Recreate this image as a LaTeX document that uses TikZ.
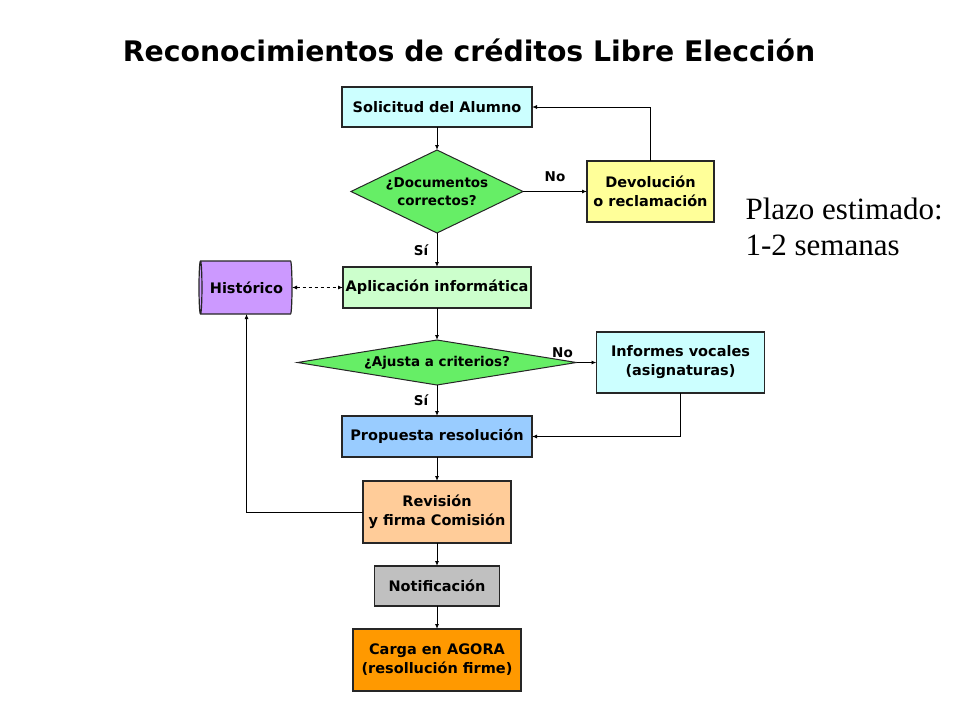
\documentclass[tikz,border=0pt]{standalone}
\usepackage{fontspec}
\setsansfont{DejaVu Sans}
\newfontfamily\serifplazo{Liberation Serif}
\usetikzlibrary{arrows.meta, positioning, shapes.geometric}
\definecolor{cyanbox}{HTML}{CCFFFF}
\definecolor{greendec}{HTML}{66EE66}
\definecolor{yellowbox}{HTML}{FFFF99}
\definecolor{greenbox}{HTML}{CCFFCC}
\definecolor{purplebox}{HTML}{CC99FF}
\definecolor{bluebox}{HTML}{99CCFF}
\definecolor{peachbox}{HTML}{FFCC99}
\definecolor{greybox}{HTML}{C0C0C0}
\definecolor{orangebox}{HTML}{FF9900}
\tikzset{%
	box/.style={draw=black!85, line width=1.2pt, rectangle, align=center, inner sep=0pt, outer sep=0pt,%
		font=\sffamily\bfseries\fontsize{14.5}{19}\selectfont},
	decision/.style={draw=black!85, line width=1pt, diamond, align=center, inner sep=0pt, outer sep=0pt,%
		fill=greendec, font=\sffamily\bfseries\fontsize{13.5}{18}\selectfont},
	store/.style={draw=black!85, line width=1.2pt, cylinder, shape border rotate=180,%
		cylinder uses custom fill, cylinder body fill=purplebox, cylinder end fill=purplebox,%
		aspect=0.25, inner sep=0pt, outer sep=0pt, font=\sffamily\bfseries\fontsize{14.5}{19}\selectfont},
	flow/.style={-{Latex[length=5pt,width=4pt]}, line width=0.9pt},
	link/.style={{Latex[length=5pt,width=4pt]}-{Latex[length=5pt,width=4pt]}, line width=0.9pt, dashed},
	answer/.style={font=\sffamily\bfseries\fontsize{13.5}{15}\selectfont}
}
\begin{document}
\begin{tikzpicture}[x=1pt, y=-1pt]
	\useasboundingbox (0,0) rectangle (960,720);
	\node[font=\sffamily\bfseries\fontsize{28.3}{32}\selectfont] (title) at (469,50)
		{Reconocimientos de créditos Libre Elección};

	\node[box, fill=cyanbox, minimum width=190pt, minimum height=40pt] (sol) at (437,107) {Solicitud del Alumno};
	\node[decision, aspect=2.07, minimum width=172pt, minimum height=83pt, below=23pt of sol] (docs) {¿Documentos\\correctos?};
	\node[box, fill=yellowbox, minimum width=127pt, minimum height=61pt, right=64pt of docs] (dev) {Devolución\\o reclamación};
	\node[box, fill=greenbox, minimum width=188pt, minimum height=41pt, below=34pt of docs] (apl) {Aplicación informática};
	\node[store, minimum width=53pt, minimum height=93pt, left=51pt of apl] (hist) {Histórico};
	\node[decision, aspect=6.2, minimum width=279pt, minimum height=45pt, below=32pt of apl] (crit) {¿Ajusta a criterios?};
	\node[box, fill=cyanbox, minimum width=168pt, minimum height=61pt, right=20pt of crit] (inf) {Informes vocales\\(asignaturas)};
	\node[box, fill=bluebox, minimum width=190pt, minimum height=41pt, below=31pt of crit] (prop) {Propuesta resolución};
	\node[box, fill=peachbox, minimum width=148pt, minimum height=62pt, below=24pt of prop] (rev) {Revisión\\y firma Comisión};
	\node[box, fill=greybox, minimum width=125pt, minimum height=40pt, below=23pt of rev] (notif) {Notificación};
	\node[box, fill=orangebox, minimum width=168pt, minimum height=62pt, below=23pt of notif] (carga) {Carga en AGORA\\(resollución firme)};

	\node[font=\serifplazo\fontsize{31}{36}\selectfont, align=left, anchor=north west] (plazo) at (742,194)
		{Plazo estimado:\\1-2 semanas};

	\draw[flow] (sol) -- (docs);
	\draw[flow] (docs) -- node[answer, above=6pt] {No} (dev);
	\draw[flow] (dev.north) |- (sol.east);
	\draw[flow] (docs) -- node[answer, left=5pt] {Sí} (apl);
	\draw[link] (hist) -- (apl);
	\draw[flow] (apl) -- (crit);
	\draw[flow] (crit) -- node[answer, pos=0, above=1pt, xshift=-14pt] {No} (inf);
	\draw[flow] (crit) -- node[answer, left=5pt] {Sí} (prop);
	\draw[flow] (inf.south) |- (prop.east);
	\draw[flow] (prop) -- (rev);
	\draw[flow] (rev.west) -| (hist.south);
	\draw[flow] (rev) -- (notif);
	\draw[flow] (notif) -- (carga);
\end{tikzpicture}
\end{document}
